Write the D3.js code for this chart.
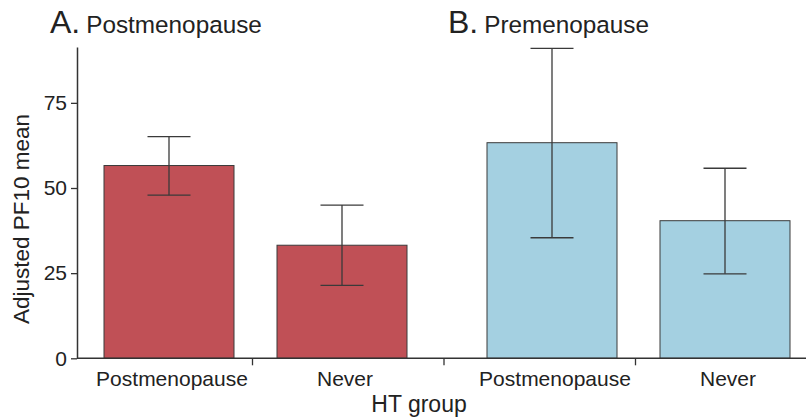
<!DOCTYPE html>
<html>
<head>
  <meta charset="UTF-8">
  <style>
    body { margin: 0; background: white; }
    svg { display: block; font-family: "Liberation Sans", Arial, sans-serif; }
    .tick text { fill: #222; }
  </style>
</head>
<body>

<svg></svg>
<script src="https://d3js.org/d3.v7.min.js"></script>

<script>

// chart data
let groups = ["A.", "B."];
let groupTitles = ["Postmenopause", "Premenopause"];
let categories = ["Postmenopause", "Never"];
let means = [[56.6, 33.2], [63.3, 40.4]];
let lowerCI = [[47.9, 21.4], [35.4, 24.8]];
let upperCI = [[65.1, 45.0], [91.0, 55.8]];
let yTicks = [0, 25, 50, 75];
let groupColors = ["#c05056", "#a4d0e1"];

let width = 806, height = 420;
let plotLeft = 77, plotRight = 806, plotBottom = 358.3, plotTop = 47;

let svg = d3.select("svg")
    .attr("width", width)
    .attr("height", height)
    .attr("viewBox", "0 0 " + width + " " + height);

// flatten into rows
let rows = [];
groups.forEach((g, i) => {
  categories.forEach((c, j) => {
    rows.push({group: g, cat: c, gi: i, mean: means[i][j], lo: lowerCI[i][j], hi: upperCI[i][j]});
  });
});

let y = d3.scaleLinear().domain([0, 91.4]).range([plotBottom, plotTop]);

let xGroup = d3.scaleBand()
    .domain(groups)
    .range([104, 790])
    .paddingInner(80 / 383)
    .paddingOuter(0);

let xCat = d3.scaleBand()
    .domain(categories)
    .range([0, xGroup.bandwidth()])
    .paddingInner(43 / 173)
    .paddingOuter(0);

let barX = d => xGroup(d.group) + xCat(d.cat);
let barMid = d => barX(d) + xCat.bandwidth() / 2;

// bars
svg.append("g")
    .selectAll("rect")
    .data(rows)
    .enter()
    .append("rect")
    .attr("x", barX)
    .attr("y", d => y(d.mean))
    .attr("width", xCat.bandwidth())
    .attr("height", d => y(0) - y(d.mean))
    .attr("fill", d => groupColors[d.gi])
    .attr("stroke", "#3a3a3a")
    .attr("stroke-width", 1);

// error bars
let capW = 43;
let err = svg.append("g")
    .attr("stroke", "#3a3a3a")
    .attr("stroke-width", 1.3)
    .selectAll("g")
    .data(rows)
    .enter()
    .append("g");

err.append("line")
    .attr("x1", barMid).attr("x2", barMid)
    .attr("y1", d => y(d.lo)).attr("y2", d => y(d.hi));
err.append("line")
    .attr("x1", d => barMid(d) - capW / 2).attr("x2", d => barMid(d) + capW / 2)
    .attr("y1", d => y(d.hi)).attr("y2", d => y(d.hi));
err.append("line")
    .attr("x1", d => barMid(d) - capW / 2).attr("x2", d => barMid(d) + capW / 2)
    .attr("y1", d => y(d.lo)).attr("y2", d => y(d.lo));

// y axis
let yAxis = svg.append("g")
    .attr("transform", `translate(${plotLeft},0)`)
    .call(d3.axisLeft(y).tickValues(yTicks).tickSize(6).tickSizeOuter(0).tickPadding(4));
yAxis.select(".domain").attr("stroke", "#333").attr("stroke-width", 1.5);
yAxis.selectAll(".tick line").attr("stroke", "#333").attr("stroke-width", 1.3);
yAxis.selectAll(".tick text").attr("font-size", 21).attr("font-family", "Liberation Sans, Arial, sans-serif");

// x axis baseline
svg.append("line")
    .attr("x1", plotLeft).attr("x2", plotRight)
    .attr("y1", y(0)).attr("y2", y(0))
    .attr("stroke", "#333").attr("stroke-width", 1.5);

// separator ticks between bars (sit a little left of the gap centre)
let seps = [];
for (let k = 0; k < rows.length - 1; k++) {
  seps.push((barX(rows[k]) + xCat.bandwidth() + barX(rows[k + 1])) / 2 - 3);
}
svg.append("g")
    .selectAll("line")
    .data(seps)
    .enter()
    .append("line")
    .attr("x1", d => d).attr("x2", d => d)
    .attr("y1", y(0)).attr("y2", y(0) + 7)
    .attr("stroke", "#333").attr("stroke-width", 1.3);

// category labels
svg.append("g")
    .selectAll("text")
    .data(rows)
    .enter()
    .append("text")
    .attr("x", d => barMid(d) + 3)
    .attr("y", 386)
    .attr("text-anchor", "middle")
    .attr("font-size", 21)
    .attr("fill", "#222")
    .text(d => d.cat);

// axis titles
svg.append("text")
    .attr("x", 419)
    .attr("y", 412)
    .attr("text-anchor", "middle")
    .attr("font-size", 23)
    .attr("fill", "#222")
    .text("HT group");

svg.append("text")
    .attr("transform", "translate(29,219) rotate(-90)")
    .attr("text-anchor", "middle")
    .attr("font-size", 22.5)
    .attr("fill", "#222")
    .text("Adjusted PF10 mean");

// panel titles
let titleX = [50, 448];
groups.forEach((g, i) => {
  let t = svg.append("text")
      .attr("x", titleX[i])
      .attr("y", 33)
      .attr("fill", "#222");
  t.append("tspan").attr("font-size", 32).text(g);
  t.append("tspan").attr("font-size", 24.3).attr("dx", 6).text(groupTitles[i]);
});

</script>

</body>
</html>
